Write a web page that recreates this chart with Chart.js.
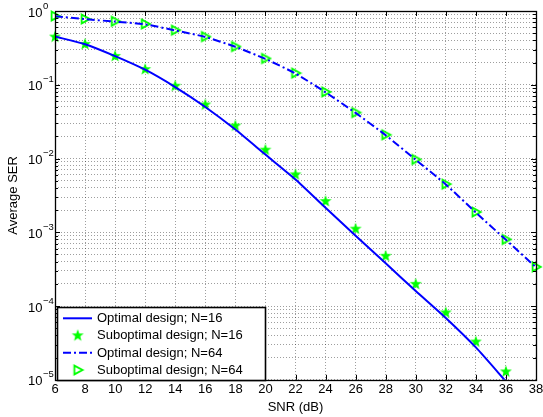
<!DOCTYPE html>
<html>
<head>
<meta charset="utf-8">
<script src="https://cdn.jsdelivr.net/npm/chart.js@4.4.1/dist/chart.umd.min.js"></script>
<style>
html, body { margin: 0; padding: 0; background: #fff; }
#wrap { width: 543px; height: 417px; }
</style>
</head>
<body>
<div id="wrap"><canvas id="chartSer"></canvas></div>
<script>
// SNR grid (dB) and the average SER curves
const snrDb = [6, 8, 10, 12, 14, 16, 18, 20, 22, 24, 26, 28, 30, 32, 34, 36, 38];
const serOptimal16 = [0.45, 0.355, 0.245, 0.16, 0.093, 0.05, 0.0247, 0.0113, 0.0052, 0.00215, 9.0e-4, 3.8e-4, 1.6e-4, 6.9e-5, 2.75e-5, 9.5e-6];
const serSuboptimal16 = [0.45, 0.358, 0.246, 0.163, 0.097, 0.054, 0.028, 0.0132, 0.0061, 0.00265, 0.00112, 4.8e-4, 2.0e-4, 8.2e-5, 3.3e-5, 1.3e-5];
const serOptimal64 = [0.85, 0.775, 0.718, 0.66, 0.545, 0.445, 0.327, 0.224, 0.142, 0.079, 0.0415, 0.0207, 0.0096, 0.00445, 0.00185, 7.9e-4, 3.35e-4];
const serSuboptimal64 = [0.855, 0.78, 0.725, 0.667, 0.55, 0.45, 0.33, 0.227, 0.144, 0.080, 0.042, 0.021, 0.0097, 0.0045, 0.00188, 8.0e-4, 3.4e-4];
const seriesNames = ['Optimal design; N=16', 'Suboptimal design; N=16', 'Optimal design; N=64', 'Suboptimal design; N=64'];
const xTickValues = [6, 8, 10, 12, 14, 16, 18, 20, 22, 24, 26, 28, 30, 32, 34, 36, 38];
const yDecades = [-5, -4, -3, -2, -1, 0];

const FONT = "'Liberation Sans', Arial, Helvetica, sans-serif";
const BLUE = '#0000ff';
const GREEN = '#00ff00';
const GRID = 'rgba(0,0,0,0.38)';

function toPoints(arr) {
	return arr.map((v, i) => ({ x: snrDb[i], y: v }));
}

// filled five point star marker
function makeStar() {
	const c = document.createElement('canvas');
	c.width = 14; c.height = 14;
	const g = c.getContext('2d');
	g.fillStyle = GREEN;
	g.beginPath();
	for (let k = 0; k < 10; k++) {
		const r = k % 2 === 0 ? 6.3 : 2.6;
		const a = -Math.PI / 2 + k * Math.PI / 5;
		const px = 7 + r * Math.cos(a), py = 7.3 + r * Math.sin(a);
		if (k === 0) g.moveTo(px, py); else g.lineTo(px, py);
	}
	g.closePath();
	g.fill();
	return c;
}

// open triangle pointing right
function makeTriangle() {
	const c = document.createElement('canvas');
	c.width = 14; c.height = 14;
	const g = c.getContext('2d');
	g.strokeStyle = GREEN;
	g.lineWidth = 1.8;
	g.beginPath();
	g.moveTo(3.6, 2.6);
	g.lineTo(11.8, 7);
	g.lineTo(3.6, 11.4);
	g.closePath();
	g.stroke();
	return c;
}

const starImg = makeStar();
const triImg = makeTriangle();

// axis box, inner tick marks, y labels with exponents and the boxed legend
const matlabAxes = {
	id: 'matlabAxes',
	afterDraw(chart) {
		const ctx = chart.ctx;
		const a = chart.chartArea;
		const xs = chart.scales.x, ys = chart.scales.y;
		ctx.save();
		ctx.strokeStyle = '#000';
		ctx.lineWidth = 1;
		ctx.beginPath();
		xTickValues.forEach(v => {
			const px = Math.round(xs.getPixelForValue(v)) + 0.5;
			ctx.moveTo(px, a.bottom); ctx.lineTo(px, a.bottom - 5);
			ctx.moveTo(px, a.top); ctx.lineTo(px, a.top + 5);
		});
		yDecades.forEach(e => {
			for (let m = 1; m <= 9; m++) {
				if (e === 0 && m > 1) break;
				const py = Math.round(ys.getPixelForValue(m * Math.pow(10, e))) + 0.5;
				const len = m === 1 ? 5 : 3;
				ctx.moveTo(a.left, py); ctx.lineTo(a.left + len, py);
				ctx.moveTo(a.right, py); ctx.lineTo(a.right - len, py);
			}
		});
		ctx.stroke();
		ctx.lineWidth = 1.3;
		ctx.strokeRect(Math.round(a.left) + 0.5, Math.round(a.top) + 0.5, Math.round(a.right - a.left), Math.round(a.bottom - a.top));

		// y tick labels: 10 with a raised exponent
		ctx.fillStyle = '#000';
		ctx.textBaseline = 'middle';
		ctx.textAlign = 'left';
		yDecades.forEach(e => {
			const py = ys.getPixelForValue(Math.pow(10, e));
			ctx.font = '13px ' + FONT;
			ctx.fillText('10', 28, py + 2);
			const w = ctx.measureText('10').width;
			ctx.font = '9.5px ' + FONT;
			ctx.fillText(e === 0 ? '0' : '\u2212' + (-e), 28 + w + 0.5, py - 5);
		});

		// legend
		const lx = 57, ly = 307, lw = 208, lh = 73;
		ctx.fillStyle = '#fff';
		ctx.fillRect(lx, ly, lw, lh);
		ctx.strokeStyle = '#000';
		ctx.lineWidth = 1.6;
		ctx.strokeRect(lx + 0.5, ly + 0.5, lw, lh);
		const rows = [318.3, 335.3, 352.7, 370];
		ctx.font = '13px ' + FONT;
		ctx.textBaseline = 'middle';
		rows.forEach((ry, i) => {
			if (i === 0 || i === 2) {
				ctx.strokeStyle = BLUE;
				ctx.lineWidth = 2;
				ctx.setLineDash(i === 2 ? [8, 3, 2, 3] : []);
				ctx.beginPath();
				ctx.moveTo(63, ry); ctx.lineTo(92, ry);
				ctx.stroke();
				ctx.setLineDash([]);
			} else {
				const img = i === 1 ? starImg : triImg;
				ctx.drawImage(img, 77.7 - 7, ry - 7);
			}
			ctx.fillStyle = '#000';
			ctx.fillText(seriesNames[i], 97, ry + 0.5);
		});
		ctx.restore();
	}
};

new Chart(document.getElementById('chartSer'), {
	type: 'line',
	data: {
		datasets: [
			{
				label: seriesNames[0],
				data: toPoints(serOptimal16),
				borderColor: BLUE,
				borderWidth: 2,
				pointRadius: 0,
				tension: 0.2
			},
			{
				label: seriesNames[1],
				data: toPoints(serSuboptimal16),
				showLine: false,
				pointStyle: starImg,
				pointRadius: 6,
				clip: false
			},
			{
				label: seriesNames[2],
				data: toPoints(serOptimal64),
				borderColor: BLUE,
				borderWidth: 2,
				borderDash: [8, 3, 2, 3],
				pointRadius: 0,
				tension: 0.2
			},
			{
				label: seriesNames[3],
				data: toPoints(serSuboptimal64),
				showLine: false,
				pointStyle: triImg,
				pointRadius: 6,
				clip: false
			}
		]
	},
	options: {
		responsive: true,
		maintainAspectRatio: false,
		animation: false,
		events: [],
		layout: { padding: { left: 6, right: 6, top: 11, bottom: 2 } },
		plugins: {
			legend: { display: false },
			tooltip: { enabled: false }
		},
		scales: {
			x: {
				type: 'linear',
				min: 6,
				max: 38,
				afterBuildTicks(scale) {
					scale.ticks = xTickValues.map(v => ({ value: v }));
				},
				afterFit(scale) {
					scale.paddingLeft = 0;
					scale.paddingRight = 0;
				},
				grid: { color: GRID, lineWidth: 1, drawTicks: false },
				border: { display: false, dash: [1, 2] },
				ticks: {
					color: '#000',
					font: { family: FONT, size: 13 },
					padding: 2,
					maxRotation: 0,
					autoSkip: false
				},
				title: {
					display: true,
					text: 'SNR (dB)',
					color: '#000',
					font: { family: FONT, size: 13 },
					padding: { top: 0, bottom: 0 }
				}
			},
			y: {
				type: 'logarithmic',
				min: 1e-5,
				max: 1,
				afterBuildTicks(scale) {
					const t = [];
					yDecades.forEach(e => {
						for (let m = 1; m <= 9; m++) {
							if (e === 0 && m > 1) break;
							t.push({ value: m * Math.pow(10, e) });
						}
					});
					scale.ticks = t;
				},
				grid: { color: GRID, lineWidth: 1, drawTicks: false },
				border: { display: false, dash: [1, 2] },
				ticks: { display: false },
				title: {
					display: true,
					text: 'Average SER',
					color: '#000',
					font: { family: FONT, size: 13 },
					padding: { top: 0, bottom: 33.4 }
				}
			}
		}
	},
	plugins: [matlabAxes]
});
</script>
</body>
</html>
